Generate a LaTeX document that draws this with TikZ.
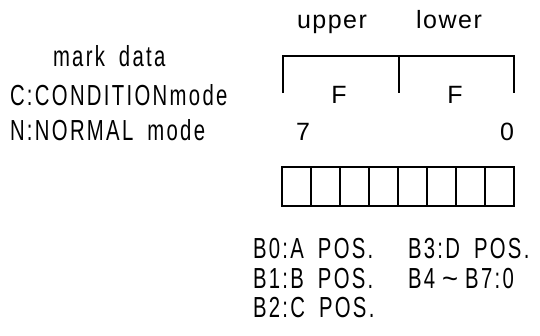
\documentclass[tikz,border=0pt]{standalone}
\usepackage{fontspec}
\setmainfont{Liberation Sans}[FakeStretch=0.7,LetterSpace=8,WordSpace=1.75]
\newfontfamily\labelfont{Liberation Sans}[LetterSpace=6]
\newcommand{\wavedash}{\kern7pt\scalebox{1.35}[1]{\textasciitilde}\kern7pt}
\begin{document}
\begin{tikzpicture}[x=1pt,y=-1pt,
  txt/.style={inner sep=0pt,outer sep=0pt,font=\fontsize{29}{29}\selectfont},
  lbl/.style={inner sep=0pt,outer sep=0pt,font=\labelfont\fontsize{25}{25}\selectfont},
  rule/.style={line width=1.6pt},
  cell/.style={draw,line width=1.6pt,inner sep=0pt,outer sep=0pt,
               minimum width=29pt,minimum height=39pt}]
\useasboundingbox (0,0) rectangle (540,335);

% left legend
\node[txt,anchor=base west] (mark) at (53,66) {mark data};
\node[txt,anchor=base west] (cond) at (10,105) {C:CONDITIONmode};
\node[txt,anchor=base west] (norm) at (10,140) {N:NORMAL mode};

% nibble labels
\node[lbl,anchor=base] (upper) at (332,28) {upper};
\node[lbl,anchor=base] (lower) at (449,28) {lower};

% bracket over the two nibbles
\coordinate (bl) at (283,93);
\coordinate (blt) at (283,56);
\coordinate (bm) at (399,93);
\coordinate (bmt) at (399,56);
\coordinate (br) at (514,93);
\coordinate (brt) at (514,56);
\draw[rule] (bl) -- (blt) -- (brt) -- (br);
\draw[rule] (bmt) -- (bm);

\node[lbl,anchor=base] (fhi) at (339,103) {F};
\node[lbl,anchor=base] (flo) at (455,103) {F};
\node[lbl,anchor=base] (msb) at (303,140) {7};
\node[lbl,anchor=base] (lsb) at (507,140) {0};

% eight bit cells
\foreach \i in {0,...,7}
  \node[cell] (c\i) at ({296.5+29*\i},186.5) {};

% bit meanings
\node[txt,anchor=base west] (b0) at (253,258) {B0:A POS.};
\node[txt,anchor=base west] (b1) at (253,288) {B1:B POS.};
\node[txt,anchor=base west] (b2) at (253,317) {B2:C POS.};
\node[txt,anchor=base west] (b3) at (408,258) {B3:D POS.};
\node[txt,anchor=base west] (b4) at (408,288) {B4\wavedash B7:0};
\end{tikzpicture}
\end{document}
